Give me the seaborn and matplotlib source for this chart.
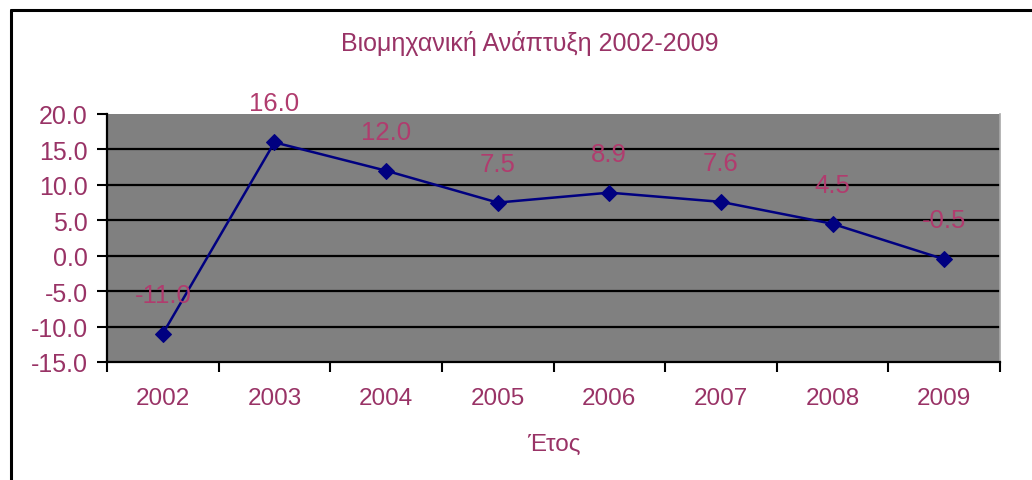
import pandas as pd
import matplotlib.pyplot as plt
import seaborn as sns
from matplotlib.ticker import FixedLocator, FormatStrFormatter
from matplotlib.lines import Line2D

# %% data
years = ['2002', '2003', '2004', '2005', '2006', '2007', '2008', '2009']
growth = [-11.0, 16.0, 12.0, 7.5, 8.9, 7.6, 4.5, -0.5]
y_ticks = [-15, -10, -5, 0, 5, 10, 15, 20]

df = pd.DataFrame({'year': years, 'growth': growth})
df['pos'] = range(len(df))

plum = '#993366'
label_col = '#b03c6e'

sns.set_style('white')
plt.rcParams['font.family'] = ['Liberation Sans', 'DejaVu Sans']

fig = plt.figure(figsize=(10.32, 4.81), dpi=100)
ax = fig.add_axes([107 / 1032, 1 - 363 / 481, 893 / 1032, 248 / 481])
ax.set_facecolor('#808080')

# %% gridlines
for v in y_ticks[1:-1]:
    ax.axhline(v, color='black', lw=1.6, zorder=1)

sns.lineplot(data=df, x='pos', y='growth', ax=ax, color='#000080', lw=1.8,
             marker='D', markersize=8, markeredgecolor='#000080', zorder=3)

for p, v in zip(df['pos'], df['growth']):
    ax.annotate(f'{v:.1f}', (p, v), xytext=(0, 28), textcoords='offset points',
                ha='center', va='center', fontsize=18.5, color=label_col,
                annotation_clip=False, zorder=4)

ax.set_xlim(-0.5, len(years) - 0.5)
ax.set_ylim(-15, 20)
ax.set_xticks(df['pos'])
ax.set_xticklabels(years)
ax.xaxis.set_minor_locator(FixedLocator([i - 0.5 for i in range(len(years) + 1)]))
ax.set_yticks(y_ticks)
ax.yaxis.set_major_formatter(FormatStrFormatter('%.1f'))

ax.tick_params(axis='x', which='major', length=0, pad=18, labelsize=17.5, labelcolor=plum)
ax.tick_params(axis='x', which='minor', length=7, width=1.5, color='black', direction='out',
               bottom=True)
ax.tick_params(axis='y', length=7, width=1.5, color='black', direction='out', left=True,
               pad=7, labelsize=18, labelcolor=plum)

ax.spines['top'].set_visible(False)
ax.spines['right'].set_color('#a8a8a8')
ax.spines['right'].set_linewidth(1.2)
for s in ['left', 'bottom']:
    ax.spines[s].set_color('black')
    ax.spines[s].set_linewidth(1.6)

ax.set_xlabel('Έτος', fontsize=17.5, color=plum, labelpad=17)
ax.set_ylabel('')

fig.text(530 / 1032, 1 - 43 / 481, 'Βιομηχανική Ανάπτυξη 2002-2009', ha='center', va='center',
         fontsize=18, color=plum)

# outer chart frame (top and left edges visible)
fig.add_artist(Line2D([10.5 / 1032, 10.5 / 1032], [0, 1 - 11 / 481], transform=fig.transFigure,
                      color='black', lw=2.2))
fig.add_artist(Line2D([10.5 / 1032, 1], [1 - 11 / 481, 1 - 11 / 481], transform=fig.transFigure,
                      color='black', lw=2.2))

fig.savefig('out.png', dpi=100)
